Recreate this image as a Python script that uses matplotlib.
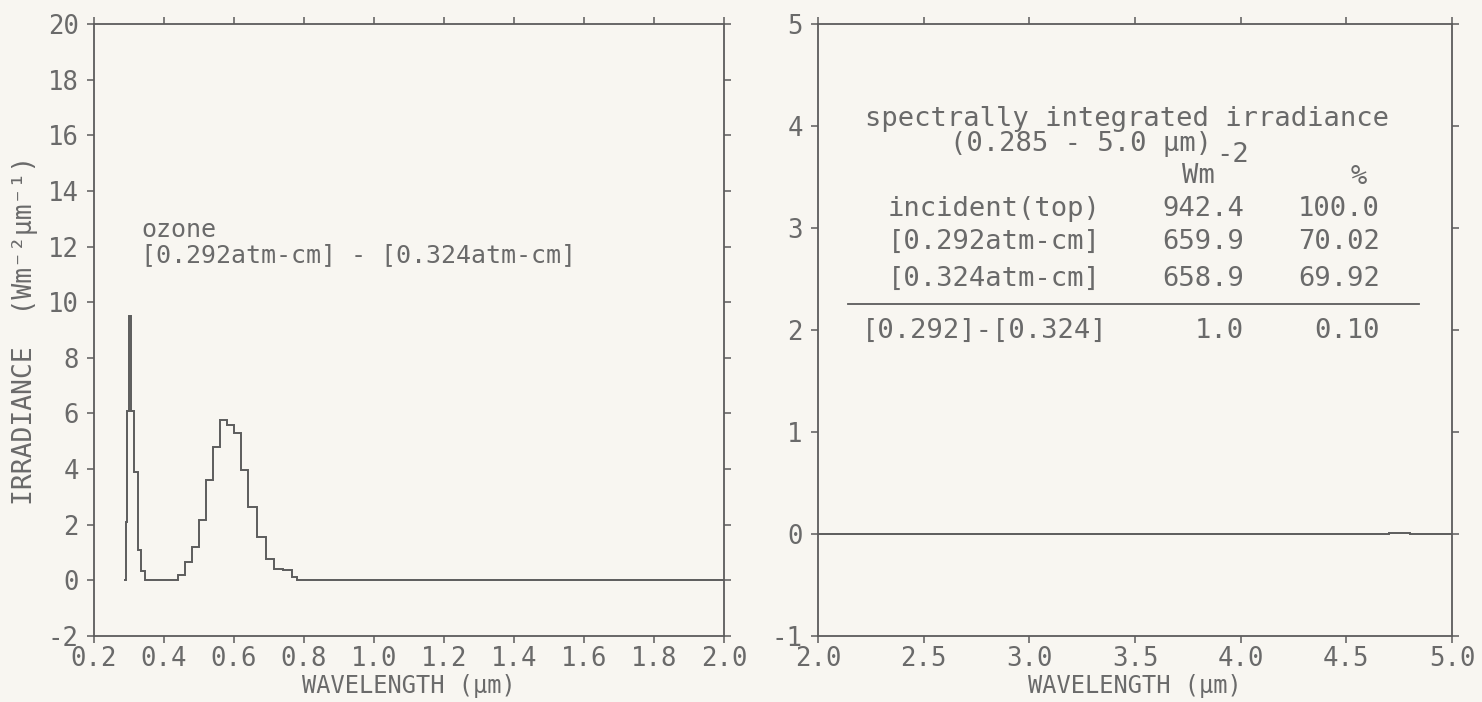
import matplotlib
matplotlib.use("Agg")
import matplotlib.pyplot as plt

# Spectral difference of downward irradiance, [0.292 atm-cm] minus [0.324 atm-cm] ozone
# Left panel: 0.2 - 2.0 um (bin edges in um, values in W m-2 um-1)
uv_vis_edges = [0.285, 0.290, 0.295, 0.300, 0.305, 0.315, 0.325, 0.335, 0.345,
                0.44, 0.46, 0.48, 0.50, 0.52, 0.54, 0.56, 0.58, 0.60, 0.62, 0.64,
                0.665, 0.69, 0.715, 0.74, 0.765, 0.78, 2.0]
uv_vis_diff = [0.0, 2.1, 6.1, 9.5, 6.1, 3.9, 1.1, 0.35, 0.0,
               0.18, 0.66, 1.2, 2.16, 3.6, 4.8, 5.75, 5.57, 5.3, 3.96,
               2.62, 1.56, 0.77, 0.42, 0.38, 0.12, 0.0]

# Right panel: 2.0 - 5.0 um
ir_edges = [2.0, 4.70, 4.80, 5.0]
ir_diff = [0.0, 0.012, 0.0]

# Spectrally integrated irradiance table
row_labels = ["incident(top)", "[0.292atm-cm]", "[0.324atm-cm]"]
row_flux = [942.4, 659.9, 658.9]
row_percent = [100.0, 70.02, 69.92]
diff_label = "[0.292]-[0.324]"
diff_flux = 1.0
diff_percent = 0.10

left_xticks = [0.2, 0.4, 0.6, 0.8, 1.0, 1.2, 1.4, 1.6, 1.8, 2.0]
left_yticks = [-2, 0, 2, 4, 6, 8, 10, 12, 14, 16, 18, 20]
right_xticks = [2.0, 2.5, 3.0, 3.5, 4.0, 4.5, 5.0]
right_yticks = [-1, 0, 1, 2, 3, 4, 5]

paper = "#f8f6f1"
ink = "#5c5c5c"
txt = "#6a6a6a"
mono = ["DejaVu Sans Mono", "DejaVu Sans"]

plt.rcParams["font.family"] = mono

W, H = 1482, 702
fig = plt.figure(figsize=(W / 100, H / 100), dpi=100, facecolor=paper)
axL = fig.add_axes([94 / W, 66 / H, 630 / W, 612 / H])
axR = fig.add_axes([818 / W, 66 / H, 634 / W, 612 / H])


def style(ax, xticks, yticks, xlim, ylim):
    ax.set_facecolor(paper)
    ax.set_xlim(*xlim)
    ax.set_ylim(*ylim)
    ax.set_xticks(xticks)
    ax.set_yticks(yticks)
    ax.set_xticklabels([f"{v:.1f}" for v in xticks])
    ax.set_yticklabels([f"{v:d}" for v in yticks])
    for s in ax.spines.values():
        s.set_color(ink)
        s.set_linewidth(1.3)
    ax.tick_params(direction="out", length=5, width=1.1, color=ink,
                   labelcolor=txt, labelsize=18.5,
                   top=True, right=True, labeltop=False, labelright=False)
    ax.tick_params(axis="x", pad=2)
    ax.tick_params(axis="y", pad=6)
    ax.set_xlabel("WAVELENGTH (µm)", fontsize=17, color=txt, labelpad=2)


style(axL, left_xticks, left_yticks, (0.2, 2.0), (-2, 20))
style(axR, right_xticks, right_yticks, (2.0, 5.0), (-1, 5))

axL.stairs(uv_vis_diff, uv_vis_edges, baseline=None, color=ink, lw=1.4)
axR.stairs(ir_diff, ir_edges, baseline=None, color=ink, lw=1.4)

axL.set_ylabel("IRRADIANCE  (Wm⁻²µm⁻¹)", fontsize=19, color=txt, va="center")
axL.yaxis.set_label_coords(-0.11, 0.5)

# ozone annotation
axL.text(0.335, 12.34, "ozone", fontsize=18, color=txt, va="baseline")
axL.text(0.335, 11.45, "[0.292atm-cm] - [0.324atm-cm]", fontsize=18,
         color=txt, va="baseline")

# integrated irradiance table
fs = 19.5
axR.text(3.462, 4.07, "spectrally integrated irradiance", fontsize=fs,
         color=txt, ha="center", va="center")
axR.text(3.243, 3.82, "(0.285 - 5.0 µm)", fontsize=fs, color=txt,
         ha="center", va="center")
axR.text(3.875, 3.51, "Wm", fontsize=fs, color=txt, ha="right", va="center")
axR.text(3.884, 3.72, "-2", fontsize=fs, color=txt, ha="left", va="center")
axR.text(4.558, 3.50, "%", fontsize=fs, color=txt, ha="center", va="center")

row_y = [3.19, 2.86, 2.50]
for lab, fl, pc, y in zip(row_labels, row_flux, row_percent, row_y):
    axR.text(3.338, y, lab, fontsize=fs, color=txt, ha="right", va="center")
    axR.text(4.017, y, f"{fl:.1f}", fontsize=fs, color=txt, ha="right", va="center")
    pct = f"{pc:.1f}" if pc >= 100 else f"{pc:.2f}"
    axR.text(4.658, y, pct, fontsize=fs, color=txt, ha="right", va="center")

axR.plot([2.142, 4.843], [2.255, 2.255], color=ink, lw=1.3)
axR.text(3.37, 1.99, diff_label, fontsize=fs, color=txt, ha="right", va="center")
axR.text(4.017, 1.99, f"{diff_flux:.1f}", fontsize=fs, color=txt, ha="right", va="center")
axR.text(4.658, 1.99, f"{diff_percent:.2f}", fontsize=fs, color=txt, ha="right", va="center")

fig.savefig("out.png", dpi=100, facecolor=paper)
